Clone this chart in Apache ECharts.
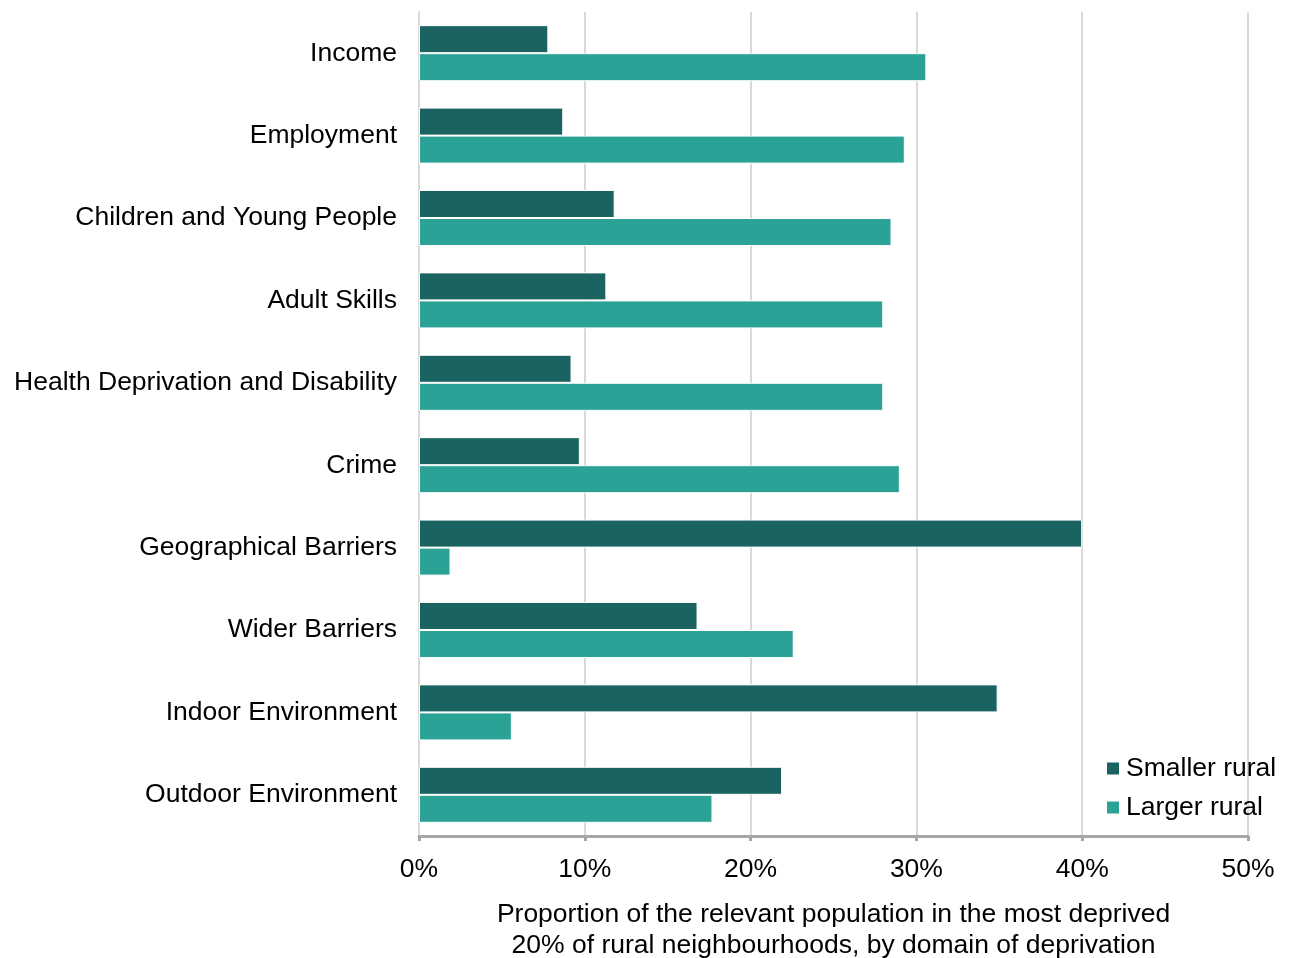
<!DOCTYPE html>
<html><head><meta charset="utf-8">
<script src="https://cdn.jsdelivr.net/npm/echarts@6/dist/echarts.min.js"></script>
<style>html,body{margin:0;padding:0;background:#fff}#c{width:1293px;height:958px}</style>
</head><body><div id="c"></div>
<script>
const categories = ["Income","Employment","Children and Young People","Adult Skills","Health Deprivation and Disability","Crime","Geographical Barriers","Wider Barriers","Indoor Environment","Outdoor Environment"];
const smallerRural = [7.8, 8.7, 11.8, 11.3, 9.2, 9.7, 40.0, 16.8, 34.9, 21.9];
const largerRural = [30.6, 29.3, 28.5, 28.0, 28.0, 29.0, 1.9, 22.6, 5.6, 17.7];
const seriesNames = ["Smaller rural", "Larger rural"];
const axisTitle = "Proportion of the relevant population in the most deprived\n20% of rural neighbourhoods, by domain of deprivation";

const chart = echarts.init(document.getElementById('c'), null, {renderer: 'canvas'});
const font = '"Liberation Sans", Arial, sans-serif';
const fs = 26.5;
chart.setOption({
  animation: false,
  textStyle: {fontFamily: font},
  grid: {left: 419, right: 45, top: 12, bottom: 122, containLabel: false, outerBoundsMode: 'none'},
  legend: {
    orient: 'vertical', left: 1100, top: 750, itemWidth: 14, itemHeight: 14, itemGap: 12,
    icon: 'rect',
    textStyle: {fontSize: fs, color: '#000', fontFamily: font, padding: [0,0,0,1]},
    data: seriesNames
  },
  xAxis: {
    type: 'value', min: 0, max: 50, interval: 10,
    axisLabel: {formatter: '{value}%', fontSize: fs, color: '#000', margin: 20, fontFamily: font},
    axisLine: {show: true, lineStyle: {color: '#A6A6A6', width: 3}},
    axisTick: {show: true, length: 5, lineStyle: {color: '#A6A6A6', width: 3}},
    splitLine: {show: true, lineStyle: {color: '#D9D9D9', width: 2}},
    name: axisTitle, nameLocation: 'middle', nameGap: 63,
    nameTextStyle: {fontSize: fs, color: '#000', lineHeight: 31, fontFamily: font}
  },
  yAxis: {
    type: 'category', data: categories, inverse: true,
    axisLine: {show: true, lineStyle: {color: '#D9D9D9', width: 2}},
    axisTick: {show: false},
    axisLabel: {fontSize: fs, color: '#000', margin: 22, fontFamily: font}
  },
  series: [
    {name: seriesNames[0], type: 'bar', data: smallerRural, barGap: '0%', barCategoryGap: '32%',
     itemStyle: {color: '#1A6360', borderColor: '#fff', borderWidth: 1}},
    {name: seriesNames[1], type: 'bar', data: largerRural, barGap: '0%', barCategoryGap: '32%',
     itemStyle: {color: '#2AA396', borderColor: '#fff', borderWidth: 1}}
  ]
});
</script></body></html>
